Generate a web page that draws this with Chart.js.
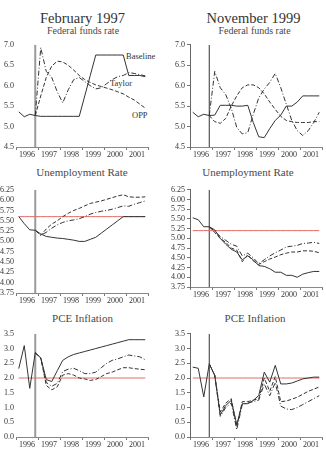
<!DOCTYPE html>
<html>
<head>
<meta charset="utf-8">
<script src="https://cdn.jsdelivr.net/npm/chart.js@4.4.0/dist/chart.umd.min.js"></script>
<style>
  body { margin: 0; background: #fff; width: 326px; height: 462px; overflow: hidden; position: relative;
         font-family: "Liberation Serif", "DejaVu Serif", serif; color: #333; }
  canvas { position: absolute; }
  .t { position: absolute; white-space: nowrap; line-height: 1; font-weight: normal; transform: translate(-50%, -50%); }
  .s { color: #4a4a4a; }
  .lbl { position: absolute; white-space: nowrap; line-height: 1; transform: translateY(-50%); font-size: 8.5px; color: #333; }
</style>
</head>
<body>
<div class="t" style="left:82.5px;top:18px;font-size:14.5px">February 1997</div>
<div class="t s" style="left:83px;top:31px;font-size:10px">Federal funds rate</div>
<div class="t s" style="left:82px;top:172px;font-size:11px">Unemployment Rate</div>
<div class="t s" style="left:82.5px;top:317.5px;font-size:11px">PCE Inflation</div>
<div class="t" style="left:253.5px;top:18px;font-size:14.5px">November 1999</div>
<div class="t s" style="left:254.5px;top:31px;font-size:10px">Federal funds rate</div>
<div class="t s" style="left:248px;top:172px;font-size:11px">Unemployment Rate</div>
<div class="t s" style="left:255px;top:317.5px;font-size:11px">PCE Inflation</div>
<div class="lbl" style="left:126px;top:56px">Baseline</div>
<div class="lbl" style="left:110px;top:83px">Taylor</div>
<div class="lbl" style="left:132px;top:115px">OPP</div>

<script>
// --- DADOS ---
const quarters = ['1996Q1','1996Q2','1996Q3','1996Q4','1997Q1','1997Q2','1997Q3','1997Q4',
                  '1998Q1','1998Q2','1998Q3','1998Q4','1999Q1','1999Q2','1999Q3','1999Q4',
                  '2000Q1','2000Q2','2000Q3','2000Q4','2001Q1','2001Q2','2001Q3','2001Q4'];
const yearLabels = ['1996','1997','1998','1999','2000','2001'];
const forecastStart = '1996Q4';

const fundsTicks = ['4.5','5.0','5.5','6.0','6.5','7.0'];
const unempTicks = ['3.75','4.00','4.25','4.50','4.75','5.00','5.25','5.50','5.75','6.00','6.25'];
const pceTicks = ['0.0','0.5','1.0','1.5','2.0','2.5','3.0','3.5'];

const febUnempTarget = 5.6;
const novUnempTarget = 5.2;
const pceTarget = 2.0;

// February 1997
const febFundsBaseline = [5.36,5.24,5.30,5.27,5.25,5.25,5.25,5.25,5.25,5.25,5.25,5.25,5.75,6.25,6.75,6.75,6.75,6.75,6.75,6.75,6.25,6.25,6.25,6.22];
const febFundsTaylor = [null,null,null,5.27,6.93,6.35,6.2,5.85,5.58,5.9,6.15,6.2,6.1,6.0,5.92,5.95,6.05,6.15,6.22,6.25,6.32,6.3,6.27,6.24];
const febFundsOpp = [null,null,null,5.27,5.75,6.2,6.48,6.6,6.58,6.5,6.38,6.25,6.15,6.08,6.02,5.98,5.94,5.9,5.85,5.8,5.72,5.65,5.55,5.45];

const febUnempBaseline = [5.6,5.43,5.28,5.27,5.18,5.12,5.1,5.08,5.07,5.05,5.03,5.0,5.0,5.05,5.1,5.2,5.3,5.4,5.5,5.6,5.6,5.6,5.6,5.6];
const febUnempTaylor = [null,null,null,5.27,5.15,5.22,5.32,5.4,5.46,5.5,5.52,5.55,5.6,5.66,5.7,5.73,5.75,5.78,5.82,5.86,5.85,5.9,5.94,5.98];
const febUnempOpp = [null,null,null,5.27,5.15,5.3,5.42,5.5,5.6,5.68,5.75,5.8,5.86,5.92,5.95,5.98,6.02,6.06,6.1,6.13,6.08,6.07,6.07,6.08];

const febPceBaseline = [2.32,3.1,1.65,2.86,2.68,1.95,1.88,2.25,2.6,2.72,2.8,2.85,2.9,2.95,3.0,3.05,3.1,3.15,3.2,3.25,3.3,3.3,3.3,3.3];
const febPceTaylor = [null,null,null,2.86,2.68,1.85,1.72,1.82,2.22,2.3,2.33,2.25,2.15,2.15,2.2,2.35,2.5,2.6,2.65,2.72,2.78,2.75,2.72,2.62];
const febPceOpp = [null,null,null,2.86,2.68,1.75,1.6,1.7,2.1,2.15,2.1,2.0,1.97,1.92,1.95,2.05,2.15,2.2,2.28,2.35,2.35,2.32,2.3,2.28];

// November 1999
const novFundsBaseline = [5.35,5.24,5.3,5.27,5.28,5.52,5.52,5.52,5.5,5.5,5.52,5.1,4.75,4.73,4.95,5.15,5.28,5.5,5.5,5.6,5.75,5.75,5.75,5.75];
const novFundsTaylor = [null,null,null,5.27,6.35,5.95,5.78,5.45,4.98,4.82,4.85,5.3,5.7,5.92,6.08,6.3,5.95,5.55,5.15,4.9,4.78,4.9,5.1,5.35];
const novFundsOpp = [null,null,null,5.27,5.12,5.08,5.2,5.5,5.75,5.95,6.02,6.02,5.95,5.8,5.6,5.42,5.25,5.15,5.12,5.1,5.1,5.1,5.12,5.12];

const novUnempBaseline = [5.53,5.48,5.3,5.3,5.22,5.0,4.85,4.72,4.65,4.45,4.55,4.45,4.3,4.28,4.22,4.13,4.13,4.05,4.05,4.0,4.08,4.12,4.15,4.15];
const novUnempTaylor = [null,null,null,5.3,5.18,5.05,4.95,4.85,4.8,4.55,4.62,4.5,4.35,4.45,4.55,4.63,4.7,4.78,4.8,4.82,4.87,4.88,4.9,4.87];
const novUnempOpp = [null,null,null,5.3,5.15,5.0,4.9,4.75,4.7,4.4,4.58,4.42,4.33,4.4,4.47,4.52,4.58,4.62,4.65,4.65,4.68,4.68,4.67,4.63];

const novPceBaseline = [2.37,2.33,1.36,2.48,2.09,0.75,1.07,1.24,0.42,1.13,1.13,1.24,1.41,2.2,1.86,2.43,1.8,1.8,1.83,1.9,1.97,2.0,2.03,2.03];
const novPceTaylor = [null,null,null,2.48,2.09,0.7,1.0,1.15,0.25,1.1,1.15,1.2,1.25,1.8,1.4,1.85,1.05,0.95,0.93,1.0,1.1,1.2,1.3,1.4];
const novPceOpp = [null,null,null,2.48,2.09,0.85,1.15,1.3,0.35,1.2,1.2,1.25,1.3,2.0,1.55,2.05,1.2,1.22,1.28,1.35,1.45,1.55,1.62,1.7];

// --- UTILITÁRIOS ---
const LINE = '#333';
const DASH = [4, 2];
const DASHDOT = [5, 2, 1, 2];
const TICK_FONT = { family: '"Liberation Serif", "Times New Roman", serif', size: 8 };

function quarterToX(q) {
    return Number(q.slice(0, 4)) + (Number(q[5]) - 0.5) / 4;
}

function serie(values, dash) {
    return {
        data: quarters.map((q, i) => ({ x: quarterToX(q), y: values[i] })),
        borderColor: LINE,
        borderWidth: 1,
        borderDash: dash || [],
        pointRadius: 0,
        spanGaps: false
    };
}

function makePanel(box, ticks, series, target, isLeft) {
    const canvas = document.createElement('canvas');
    const top = box.plotTop - 6;
    const height = box.plotBottom + 13 - top;
    canvas.style.left = box.left + 'px';
    canvas.style.top = top + 'px';
    canvas.style.width = box.width + 'px';
    canvas.style.height = height + 'px';
    canvas.width = box.width;
    canvas.height = height;
    document.body.appendChild(canvas);

    const yMin = Number(ticks[0]);
    const yMax = Number(ticks[ticks.length - 1]);
    const fx = quarterToX(forecastStart);

    const datasets = [
        serie(series[0]),
        serie(series[1], DASHDOT),
        serie(series[2], DASH)
    ];
    if (target !== null) {
        datasets.push({
            data: quarters.map(q => ({ x: quarterToX(q), y: target })),
            borderColor: '#e36b6b', borderWidth: 1, pointRadius: 0
        });
    }
    // linha vertical do início da projeção
    datasets.push({
        data: [{ x: fx, y: yMin }, { x: fx, y: yMax }],
        borderColor: isLeft ? '#9a9a9a' : '#333',
        borderWidth: isLeft ? 2 : 1,
        pointRadius: 0
    });

    new Chart(canvas, {
        type: 'line',
        data: { datasets: datasets },
        options: {
            responsive: false,
            animation: false,
            devicePixelRatio: 1,
            layout: { padding: { top: 6, right: box.padRight, left: 0, bottom: 0 } },
            plugins: { legend: { display: false }, tooltip: { enabled: false } },
            scales: {
                x: {
                    type: 'linear',
                    min: 1996, max: 2002,
                    afterBuildTicks: (scale) => {
                        const t = [];
                        yearLabels.forEach(y => { t.push({ value: Number(y) }); t.push({ value: Number(y) + 0.5 }); });
                        t.push({ value: 2002 });
                        scale.ticks = t;
                    },
                    afterFit: (scale) => { scale.height = 13; },
                    ticks: {
                        autoSkip: false, maxRotation: 0, padding: 0,
                        color: '#333',
                        font: TICK_FONT,
                        callback: (v) => (v % 1 !== 0) ? yearLabels[Math.floor(v) - 1996] : ''
                    },
                    grid: {
                        drawOnChartArea: false, tickLength: 3,
                        color: (ctx) => (ctx.tick && ctx.tick.value % 1 === 0) ? '#777' : 'rgba(0,0,0,0)'
                    },
                    border: { display: true, color: '#888', width: 1 }
                },
                y: {
                    type: 'linear',
                    min: yMin, max: yMax,
                    afterBuildTicks: (scale) => { scale.ticks = ticks.map(s => ({ value: Number(s) })); },
                    afterFit: (scale) => { scale.width = box.axisW; },
                    ticks: {
                        autoSkip: false,
                        padding: 2,
                        color: '#333',
                        font: TICK_FONT,
                        callback: (v) => ticks.find(s => Number(s) === v) || ''
                    },
                    grid: { drawOnChartArea: false, drawTicks: !isLeft, tickLength: 3, color: '#777' },
                    border: { display: !isLeft, color: '#666', width: 1 }
                }
            }
        }
    });
}

const leftCol = { left: 0, width: 160, axisW: 16, padRight: 12 };
const rightCol = { left: 163, width: 163, axisW: 27, padRight: 4 };

makePanel({ ...leftCol, plotTop: 44, plotBottom: 147 }, fundsTicks,
          [febFundsBaseline, febFundsTaylor, febFundsOpp], null, true);
makePanel({ ...rightCol, plotTop: 44, plotBottom: 147 }, fundsTicks,
          [novFundsBaseline, novFundsTaylor, novFundsOpp], null, false);
makePanel({ ...leftCol, plotTop: 189, plotBottom: 293 }, unempTicks,
          [febUnempBaseline, febUnempTaylor, febUnempOpp], febUnempTarget, true);
makePanel({ ...rightCol, plotTop: 189, plotBottom: 287 }, unempTicks,
          [novUnempBaseline, novUnempTaylor, novUnempOpp], novUnempTarget, false);
makePanel({ ...leftCol, plotTop: 333, plotBottom: 437 }, pceTicks,
          [febPceBaseline, febPceTaylor, febPceOpp], pceTarget, true);
makePanel({ ...rightCol, plotTop: 333, plotBottom: 437 }, pceTicks,
          [novPceBaseline, novPceTaylor, novPceOpp], pceTarget, false);
</script>
</body>
</html>
